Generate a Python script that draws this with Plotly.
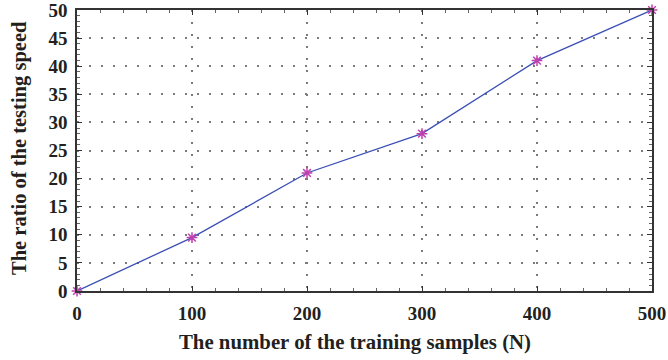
import plotly.graph_objects as go

samples = [0, 100, 200, 300, 400, 500]
ratio = [0, 9.5, 21, 28, 41, 50]
x_ticks = [0, 100, 200, 300, 400, 500]
y_ticks = [0, 5, 10, 15, 20, 25, 30, 35, 40, 45, 50]

font_family = "Liberation Serif"
txt_color = "#231f20"

fig = go.Figure()
fig.add_trace(go.Scatter(
    x=samples, y=ratio, mode="lines+markers",
    line=dict(color="#3a4eb4", width=1.3),
    marker=dict(symbol="asterisk-open", size=9, color="#c040b0",
                line=dict(color="#c040b0", width=1.5)),
    cliponaxis=False,
    showlegend=False,
))

axis_common = dict(
    showline=True, linecolor="#333333", linewidth=1.5, mirror="ticks",
    showgrid=True, gridcolor="#7a7a7a", griddash="2px,10px", gridwidth=1.6,
    ticks="inside", ticklen=5, tickcolor="#333333",
    zeroline=False, automargin=False, ticklabeloverflow="allow",
    tickfont=dict(family=font_family, size=19, color=txt_color),
)

fig.update_xaxes(
    range=[0, 500], tickvals=x_ticks, ticktext=[f"<b>{v}</b>" for v in x_ticks],
    minor=dict(ticks="inside", ticklen=3, dtick=20, tickcolor="#666666", showgrid=False),
    ticklabelstandoff=4,
    **axis_common,
)
fig.update_yaxes(
    range=[0, 50], tickvals=y_ticks, ticktext=[f"<b>{v}</b>" for v in y_ticks],
    minor=dict(ticks="inside", ticklen=3, dtick=1, tickcolor="#666666", showgrid=False),
    ticklabelstandoff=4,
    **axis_common,
)

fig.add_annotation(
    text="<b>The number of the training samples (N)</b>", xref="paper", yref="paper",
    x=(355 - 77) / 575, y=-(342 - 291) / 281, showarrow=False,
    xanchor="center", yanchor="middle",
    font=dict(family=font_family, size=20.8, color=txt_color),
)
fig.add_annotation(
    text="<b>The ratio of the testing speed</b>", xref="paper", yref="paper",
    x=-(77 - 19) / 575, y=(291 - 148) / 281, showarrow=False, textangle=-90,
    xanchor="center", yanchor="middle",
    font=dict(family=font_family, size=20.5, color=txt_color),
)

fig.update_layout(
    width=668, height=360,
    margin=dict(l=77, r=16, t=10, b=69),
    plot_bgcolor="white", paper_bgcolor="white",
)

fig.write_html("out.html")
